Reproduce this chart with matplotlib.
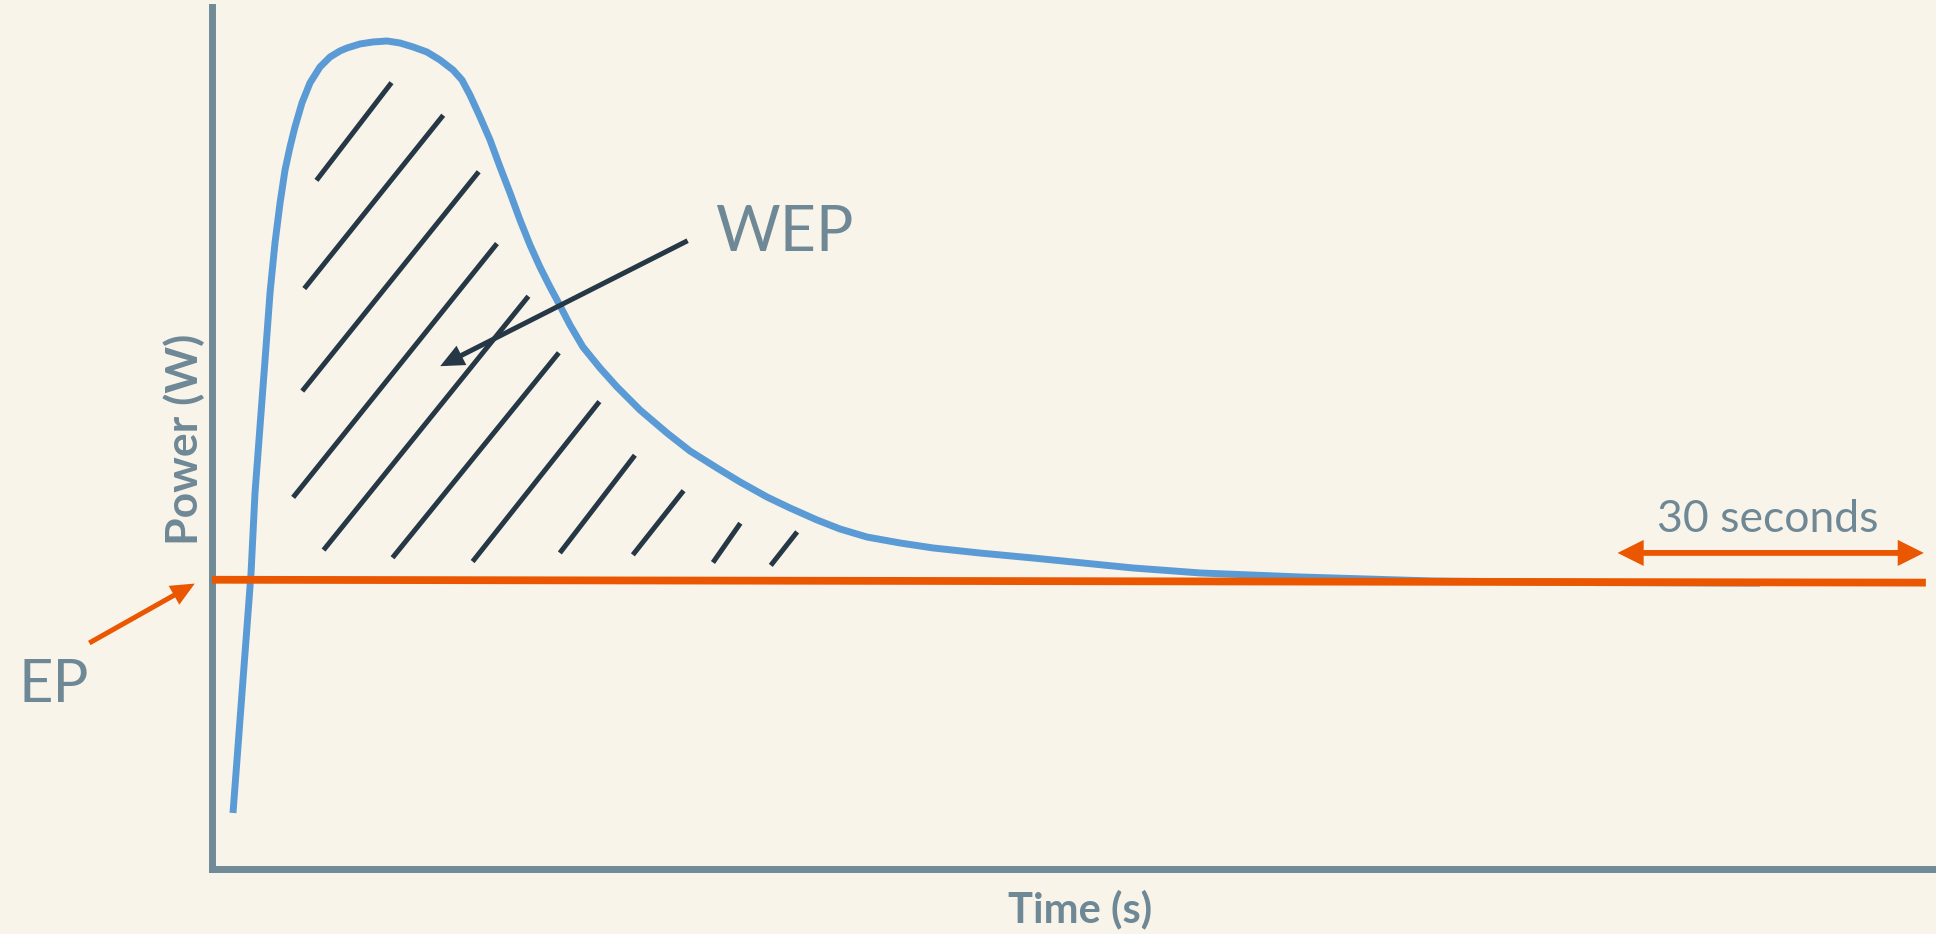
import matplotlib
matplotlib.use("Agg")
import matplotlib.pyplot as plt

# ---- data (time in s, power in W) ----
curve_t = [2.07, 3.85, 4.24, 4.73, 5.23, 5.72, 6.21, 6.71, 7.20, 7.69, 8.18, 8.87,
           9.66, 10.65, 11.64, 12.62, 13.31, 14.59, 15.88, 17.26, 18.54, 19.82,
           21.20, 22.48, 23.77, 24.65, 25.44, 26.43, 27.42, 28.40, 29.39, 30.37,
           31.36, 32.34, 33.33, 34.02, 35.30, 36.58, 38.26, 39.94, 42.21, 44.87,
           47.14, 49.80, 52.07, 54.73, 57.00, 59.66, 61.93, 64.59, 67.85, 71.10,
           75.73, 80.96, 90.82, 97.43, 107.29, 120.40, 136.87, 152.65]
curve_p = [58.5, 309.1, 392.6, 461.5, 531.4, 601.4, 653.6, 695.4, 729.8, 753.8, 774.7, 799.8,
           820.7, 837.4, 847.8, 854.1, 857.2, 861.4, 863.5, 864.5, 862.4, 858.3,
           853.0, 844.7, 834.2, 823.8, 808.1, 785.2, 761.1, 733.0, 705.8, 677.6,
           651.5, 628.5, 607.7, 594.1, 568.0, 545.0, 523.1, 503.3, 479.2, 455.2,
           436.4, 418.7, 404.1, 388.4, 376.9, 364.4, 355.0, 346.6, 340.4, 335.2,
           329.9, 324.7, 314.3, 309.1, 304.9, 300.7, 299.0, 298.5]

ep_t = [0, 169]
ep_p = [302, 299]

# hatch strokes marking the area above EP (start t, start P, end t, end P)
hatch_t0 = [10.3, 9.1, 8.9, 8.0, 11.0, 17.8, 25.7, 34.3, 41.5, 49.4, 55.1]
hatch_p0 = [719, 606, 499, 388, 333, 325, 321, 330, 328, 320, 317]
hatch_t1 = [17.7, 22.8, 26.3, 28.1, 31.2, 34.2, 38.2, 41.7, 46.5, 52.1, 57.7]
hatch_p1 = [821, 787, 728, 653, 598, 539, 488, 432, 395, 361, 352]

wep_arrow_from = (46.9, 656)
wep_arrow_to = (22.5, 525)
ep_arrow_from = (-12.1, 236)
ep_arrow_to = (-1.7, 298)
span_t = [138.6, 168.8]
span_p = 330

labels = {"x": "Time (s)", "y": "Power (W)", "wep": "WEP", "ep": "EP", "span": "30 seconds"}

# ---- style ----
BG = "#F8F4EA"
AXC = "#708A98"
TXT = "#6F8896"
BLUE = "#5B9BD5"
ORANGE = "#EA5700"
DARK = "#263746"

plt.rcParams['font.family'] = ['Lato', 'DejaVu Sans']

fig = plt.figure(figsize=(19.36, 9.34), dpi=100, facecolor=BG)
ax = fig.add_axes([212/1936, (934-869)/934, (1936-212)/1936, (869-7)/934])
ax.set_facecolor(BG)
ax.set_xlim(0, 170)
ax.set_ylim(0, 900)
for s in ["top", "right"]:
    ax.spines[s].set_visible(False)
for s in ["left", "bottom"]:
    ax.spines[s].set_color(AXC)
    ax.spines[s].set_linewidth(5)
ax.set_xticks([])
ax.set_yticks([])

# blue power curve
ax.plot(curve_t, curve_p, color=BLUE, lw=5, solid_capstyle='butt',
        solid_joinstyle='round', zorder=3, clip_on=False)
# EP line
ax.plot(ep_t, ep_p, color=ORANGE, lw=5.6, solid_capstyle='butt', zorder=4, clip_on=False)

# hatch strokes
for a, b, c, d in zip(hatch_t0, hatch_p0, hatch_t1, hatch_p1):
    ax.plot([a, c], [b, d], color=DARK, lw=3.6, solid_capstyle='butt', zorder=5)

head_kw = dict(joinstyle='miter', capstyle='butt', shrinkA=0, shrinkB=0, mutation_scale=10)
# WEP arrow
ax.annotate("", xy=wep_arrow_to, xytext=wep_arrow_from,
            arrowprops=dict(arrowstyle="-|>,head_length=1.1,head_width=0.5",
                            color=DARK, lw=3.6, **head_kw), zorder=6)
# EP arrow
ax.annotate("", xy=ep_arrow_to, xytext=ep_arrow_from, annotation_clip=False,
            arrowprops=dict(arrowstyle="-|>,head_length=1.1,head_width=0.5",
                            color=ORANGE, lw=3.6, **head_kw), zorder=6)
# 30 seconds span arrow
ax.annotate("", xy=(span_t[1], span_p), xytext=(span_t[0], span_p), annotation_clip=False,
            arrowprops=dict(arrowstyle="<|-|>,head_length=1.2,head_width=0.6",
                            color=ORANGE, lw=4.2, **head_kw), zorder=6)

# texts
ax.text(49.6, 645, labels["wep"], color=TXT, fontsize=45, ha='left', va='baseline')
ax.text(-19.1, 174, labels["ep"], color=TXT, fontsize=43, ha='left', va='baseline', clip_on=False)
ax.text(153.4, 352, labels["span"], color=TXT, fontsize=32, ha='center', va='baseline')
ax.text(85.6, -56, labels["x"], color=TXT, fontsize=30, fontweight='bold',
        ha='center', va='baseline', clip_on=False)
ax.text(-1.4, 449, labels["y"], color=TXT, fontsize=32, fontweight='bold',
        rotation=90, rotation_mode='anchor', ha='center', va='baseline', clip_on=False)

fig.savefig("out.png", dpi=100, facecolor=BG)
